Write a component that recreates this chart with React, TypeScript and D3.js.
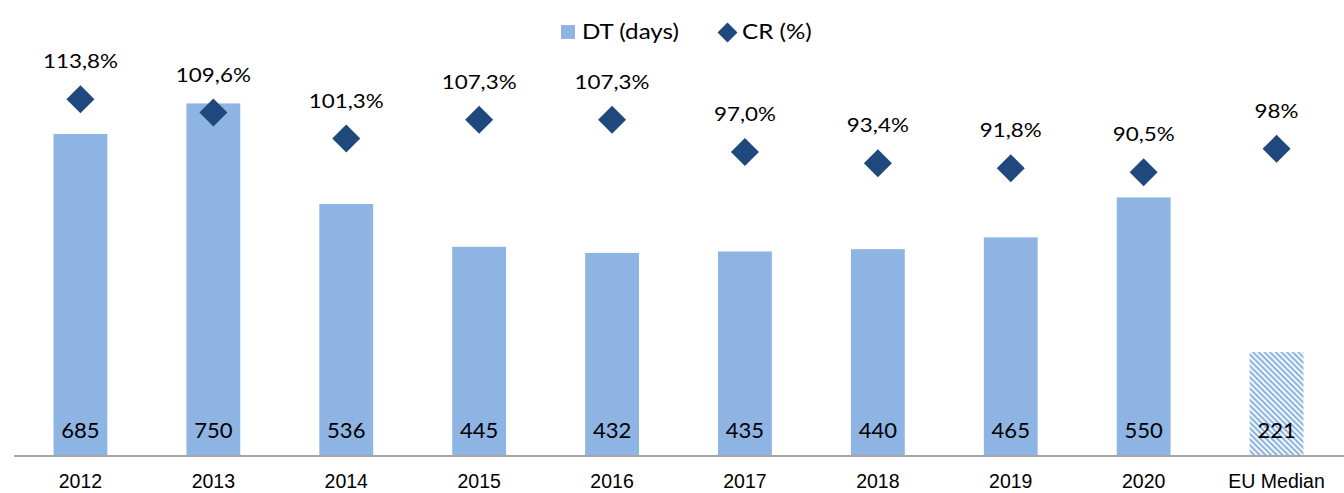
import React from "react";
import * as d3 from "d3";

const categories = ["2012", "2013", "2014", "2015", "2016", "2017", "2018", "2019", "2020", "EU Median"];
const dtDays = [685, 750, 536, 445, 432, 435, 440, 465, 550, 221];
const crPct = [113.8, 109.6, 101.3, 107.3, 107.3, 97.0, 93.4, 91.8, 90.5, 98];
const crLabels = ["113,8%", "109,6%", "101,3%", "107,3%", "107,3%", "97,0%", "93,4%", "91,8%", "90,5%", "98%"];

const W = 1344;
const H = 493;
const BAR = "#8EB4E3";
const DIA = "#1F497D";
const labelFont = "Lato, 'Open Sans', sans-serif";
const axisFont = "'Liberation Sans', Arial, sans-serif";

export default function App() {
  const x = d3.scaleBand<string>().domain(categories).range([14, 1343]).paddingInner(0.595).paddingOuter(0.2975);
  const y = d3.scaleLinear().domain([0, 970]).range([456, 0]);
  const y2 = d3.scaleLinear().domain([0, 145.5]).range([456, 0]);
  const bw = x.bandwidth();
  const d = 14;
  const diamond = (cx: number, cy: number, r: number) =>
    `M${cx},${cy - r}L${cx + r},${cy}L${cx},${cy + r}L${cx - r},${cy}Z`;

  return (
    <svg width={W} height={H} style={{ position: "absolute", left: 0, top: 0, background: "#fff" }}>
      <defs>
        <pattern id="hatch" patternUnits="userSpaceOnUse" width="4" height="4" patternTransform="rotate(-45)">
          <rect width="4" height="4" fill="#fff" />
          <rect x="0" y="0" width="2.2" height="4" fill={BAR} />
        </pattern>
      </defs>
      {categories.map((c, i) => {
        const bx = x(c)!;
        const top = y(dtDays[i]);
        return (
          <rect key={c} x={bx} y={top} width={bw} height={456 - top}
            fill={i === categories.length - 1 ? "url(#hatch)" : BAR} />
        );
      })}
      <line x1={14} x2={1344} y1={456} y2={456} stroke="#A6A6A6" strokeWidth={2} />
      {categories.map((c, i) => {
        const cx = x(c)! + bw / 2;
        const cy = y2(crPct[i]);
        return (
          <g key={"cr" + c}>
            <path d={diamond(cx, cy, d)} fill={DIA} />
            <text transform={`translate(${cx},${cy - 31}) scale(1.12,1)`} textAnchor="middle"
              fontFamily={labelFont} fontSize={20} fill="#000">
              {crLabels[i]}
            </text>
            <text transform={`translate(${cx},438) scale(1.05,1)`} textAnchor="middle"
              fontFamily={labelFont} fontSize={21} fill="#000">
              {dtDays[i]}
            </text>
            <text x={cx} y={488} textAnchor="middle" fontFamily={axisFont} fontSize={19.5} fill="#000">
              {c}
            </text>
          </g>
        );
      })}
      <g>
        <rect x={561} y={25} width={14} height={14} fill={BAR} />
        <text transform="translate(582,39) scale(1.1,1)" fontFamily={labelFont} fontSize={22} fill="#000">DT (days)</text>
        <path d={diamond(727.5, 32.5, 10)} fill={DIA} />
        <text transform="translate(742,39) scale(1.1,1)" fontFamily={labelFont} fontSize={22} fill="#000">CR (%)</text>
      </g>
    </svg>
  );
}
